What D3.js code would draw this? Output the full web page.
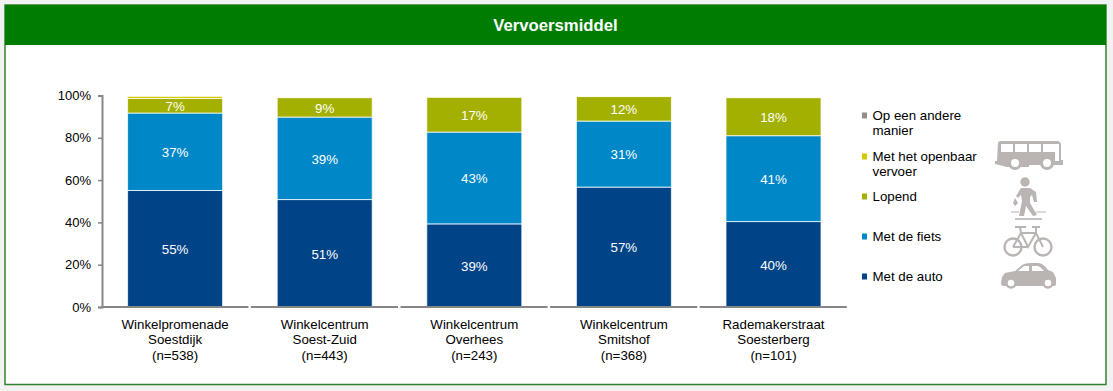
<!DOCTYPE html>
<html>
<head>
<meta charset="utf-8">
<script src="https://cdn.jsdelivr.net/npm/d3@7"></script>
<style>
    html, body { margin: 0; padding: 0; background: #f2f2f2; }
    svg { display: block; }
    text { font-family: "Liberation Sans", Arial, sans-serif; }
</style>
</head>
<body>
<svg id="chart" width="1113" height="391"></svg>
<script>
(function () {
    const title = "Vervoersmiddel";
    const categories = [
        ["Winkelpromenade", "Soestdijk", "(n=538)"],
        ["Winkelcentrum", "Soest-Zuid", "(n=443)"],
        ["Winkelcentrum", "Overhees", "(n=243)"],
        ["Winkelcentrum", "Smitshof", "(n=368)"],
        ["Rademakerstraat", "Soesterberg", "(n=101)"]
    ];

    // stacked bottom to top (labels are the rounded values)
    const auto = [55.1, 50.8, 39.3, 56.7, 40.4];
    const fiets = [36.6, 39.0, 43.4, 31.2, 40.6];
    const lopend = [6.9, 9.2, 16.5, 11.6, 18.0];
    const ov = [1.0, 0.1, 0.1, 0.1, 0.1];
    const anders = [0, 0, 0, 0, 0];
    const seriesColors = ["#004387", "#0087c8", "#a4b000", "#d2c800", "#9a8c8c"];
    const yTicks = [0, 20, 40, 60, 80, 100];

    const svg = d3.select("#chart");

    // panel + header
    svg.append("rect").attr("x", 5).attr("y", 5).attr("width", 1101).attr("height", 379.5)
        .attr("fill", "#fff").attr("stroke", "#2f852f").attr("stroke-width", 1.5);
    svg.append("rect").attr("x", 5).attr("y", 5).attr("width", 1101).attr("height", 40).attr("fill", "#007d00");
    svg.append("text").attr("x", 555.5).attr("y", 31).attr("text-anchor", "middle")
        .attr("font-size", 16.7).attr("font-weight", "bold").attr("fill", "#fff").text(title);

    const y = d3.scaleLinear().domain([0, 100]).range([307, 95.5]);
    const x = d3.scaleBand().domain(d3.range(categories.length)).range([100.3, 848.3]);
    const barW = 95;

    // stacked bars
    const rows = categories.map((c, i) => ({
        i: i, auto: auto[i], fiets: fiets[i], lopend: lopend[i], ov: ov[i], anders: anders[i]
    }));
    const keys = ["auto", "fiets", "lopend", "ov", "anders"];
    const stacked = d3.stack().keys(keys)(rows);

    const layers = svg.selectAll(".layer").data(stacked).enter().append("g")
        .attr("class", "layer")
        .attr("fill", (d, k) => seriesColors[k]);

    layers.selectAll("rect").data(d => d).enter()
        .filter(d => d[1] > d[0])
        .append("rect")
        .attr("x", d => x(d.data.i) + x.bandwidth() / 2 - barW / 2)
        .attr("width", barW)
        .attr("y", d => y(d[1]))
        .attr("height", d => y(d[0]) - y(d[1]))
        .attr("stroke", "#fff")
        .attr("stroke-opacity", 0.75)
        .attr("stroke-width", 1);

    // value labels, only on the three big series
    layers.filter((d, k) => k < 3).selectAll("text").data(d => d).enter().append("text")
        .attr("x", d => x(d.data.i) + x.bandwidth() / 2)
        .attr("y", d => (y(d[0]) + y(d[1])) / 2 + 5.3)
        .attr("text-anchor", "middle")
        .attr("font-size", 13.3)
        .attr("fill", "#fff")
        .text(d => Math.round(d[1] - d[0]) + "%");

    // y axis
    const yAxis = d3.axisLeft(y).tickValues(yTicks).tickFormat(d => d + "%").tickSize(4).tickPadding(7);
    const yG = svg.append("g").attr("transform", "translate(102,0)").call(yAxis);
    yG.select(".domain").attr("stroke", "#868686").attr("stroke-width", 2);
    yG.selectAll(".tick line").attr("stroke", "#868686").attr("stroke-width", 1.5);
    yG.selectAll("text").attr("font-size", 13).attr("fill", "#000").attr("font-family", '"Liberation Sans", Arial, sans-serif');

    // x axis is broken into one segment per category
    svg.append("g").selectAll("line").data(d3.range(categories.length)).enter().append("line")
        .attr("x1", d => x(d) + 1)
        .attr("x2", d => x(d) + x.bandwidth() - 1.5)
        .attr("y1", y(0)).attr("y2", y(0))
        .attr("stroke", "#868686").attr("stroke-width", 2);

    const xLabels = svg.append("g").selectAll("text").data(categories).enter().append("text")
        .attr("text-anchor", "middle")
        .attr("font-size", 13.3)
        .attr("fill", "#000");
    xLabels.each(function (lines, i) {
        d3.select(this).selectAll("tspan").data(lines).enter().append("tspan")
            .attr("x", x(i) + x.bandwidth() / 2)
            .attr("y", (d, j) => 329 + j * 15.3)
            .text(d => d);
    });

    // legend
    const legendLines = [
        ["Met de auto"], ["Met de fiets"], ["Lopend"],
        ["Met het openbaar", "vervoer"], ["Op een andere", "manier"]
    ];
    const legendBase = [281, 241, 201, 161, 120];
    const legend = svg.append("g").selectAll("g").data(legendLines).enter().append("g");
    legend.append("rect")
        .attr("x", 862).attr("width", 5).attr("height", 6)
        .attr("y", (d, i) => legendBase[i] - 7.5)
        .attr("fill", (d, i) => seriesColors[i]);
    legend.each(function (lines, i) {
        d3.select(this).selectAll("text").data(lines).enter().append("text")
            .attr("x", 872.5)
            .attr("y", (d, j) => legendBase[i] + j * 15)
            .attr("font-size", 13.3)
            .attr("fill", "#000")
            .text(d => d);
    });

    // pictograms
    const iconColor = "#bab5b3";
    const bus = svg.append("g").attr("transform", "translate(995,140)");
    bus.append("path").attr("fill", iconColor)
        .attr("d", "M3 3Q3 1 6 1H62Q66 1 66 5V20H68V25H34V27H12L0 24V21H2Z");
    bus.selectAll("rect").data([5, 19, 33, 47]).enter().append("rect")
        .attr("x", d => d + 1).attr("y", 4).attr("width", 12).attr("height", 8).attr("fill", "#fff");
    bus.append("rect").attr("x", 60).attr("y", 4).attr("width", 4).attr("height", 17).attr("fill", "#fff");
    bus.selectAll("circle").data([20, 52]).enter().append("circle")
        .attr("cx", d => d).attr("cy", 23).attr("r", 5.5).attr("fill", "#fff").attr("stroke", iconColor).attr("stroke-width", 3);

    const walker = svg.append("g").attr("transform", "translate(1011,177)");
    walker.append("circle").attr("cx", 14).attr("cy", 5).attr("r", 4.7).attr("fill", iconColor);
    walker.append("path").attr("fill", iconColor)
        .attr("d", "M10 11H19L25 15L26 25L23 25L21 18L19 20L19 26L26 38L22 39L15 29L13 39H8L11 24L10 18L7 21L5 19Z");
    walker.append("path").attr("fill", iconColor).attr("d", "M4 21L7 26L4 29L2 26Z");
    walker.append("path").attr("fill", "none").attr("stroke", iconColor).attr("stroke-width", 1.2)
        .attr("d", "M0 35H8M25 35H35");
    walker.append("path").attr("fill", "none").attr("stroke", iconColor).attr("stroke-width", 1.6)
        .attr("d", "M4 42H31");

    const bike = svg.append("g").attr("transform", "translate(1003,226)");
    bike.selectAll("circle").data([10, 40]).enter().append("circle")
        .attr("cx", d => d).attr("cy", 21).attr("r", 8.5).attr("fill", "none").attr("stroke", iconColor).attr("stroke-width", 2.4);
    bike.append("path").attr("fill", "none").attr("stroke", iconColor).attr("stroke-width", 2)
        .attr("d", "M10 21L18 7H33L40 21M18 7L25 21L33 7M25 21H10M12 1H23M17 1L18 7M29 1H37M33 1V7");

    const car = svg.append("g").attr("transform", "translate(1001,263)");
    car.append("path").attr("fill", iconColor)
        .attr("d", "M1 14L4 10L14 8L21 2Q24 0 30 0H37Q42 0 47 7L52 9L55 15V21Q55 23 52 23H3Q0 23 0 20Z");
    car.append("path").attr("fill", "#fff").attr("d", "M17 8L23 3H28V8ZM31 3H37Q40 4 43 8H31Z");
    car.selectAll("circle").data([10, 47]).enter().append("circle")
        .attr("cx", d => d).attr("cy", 20).attr("r", 4.5).attr("fill", "#fff").attr("stroke", iconColor).attr("stroke-width", 2.5);
})();
</script>
</body>
</html>
